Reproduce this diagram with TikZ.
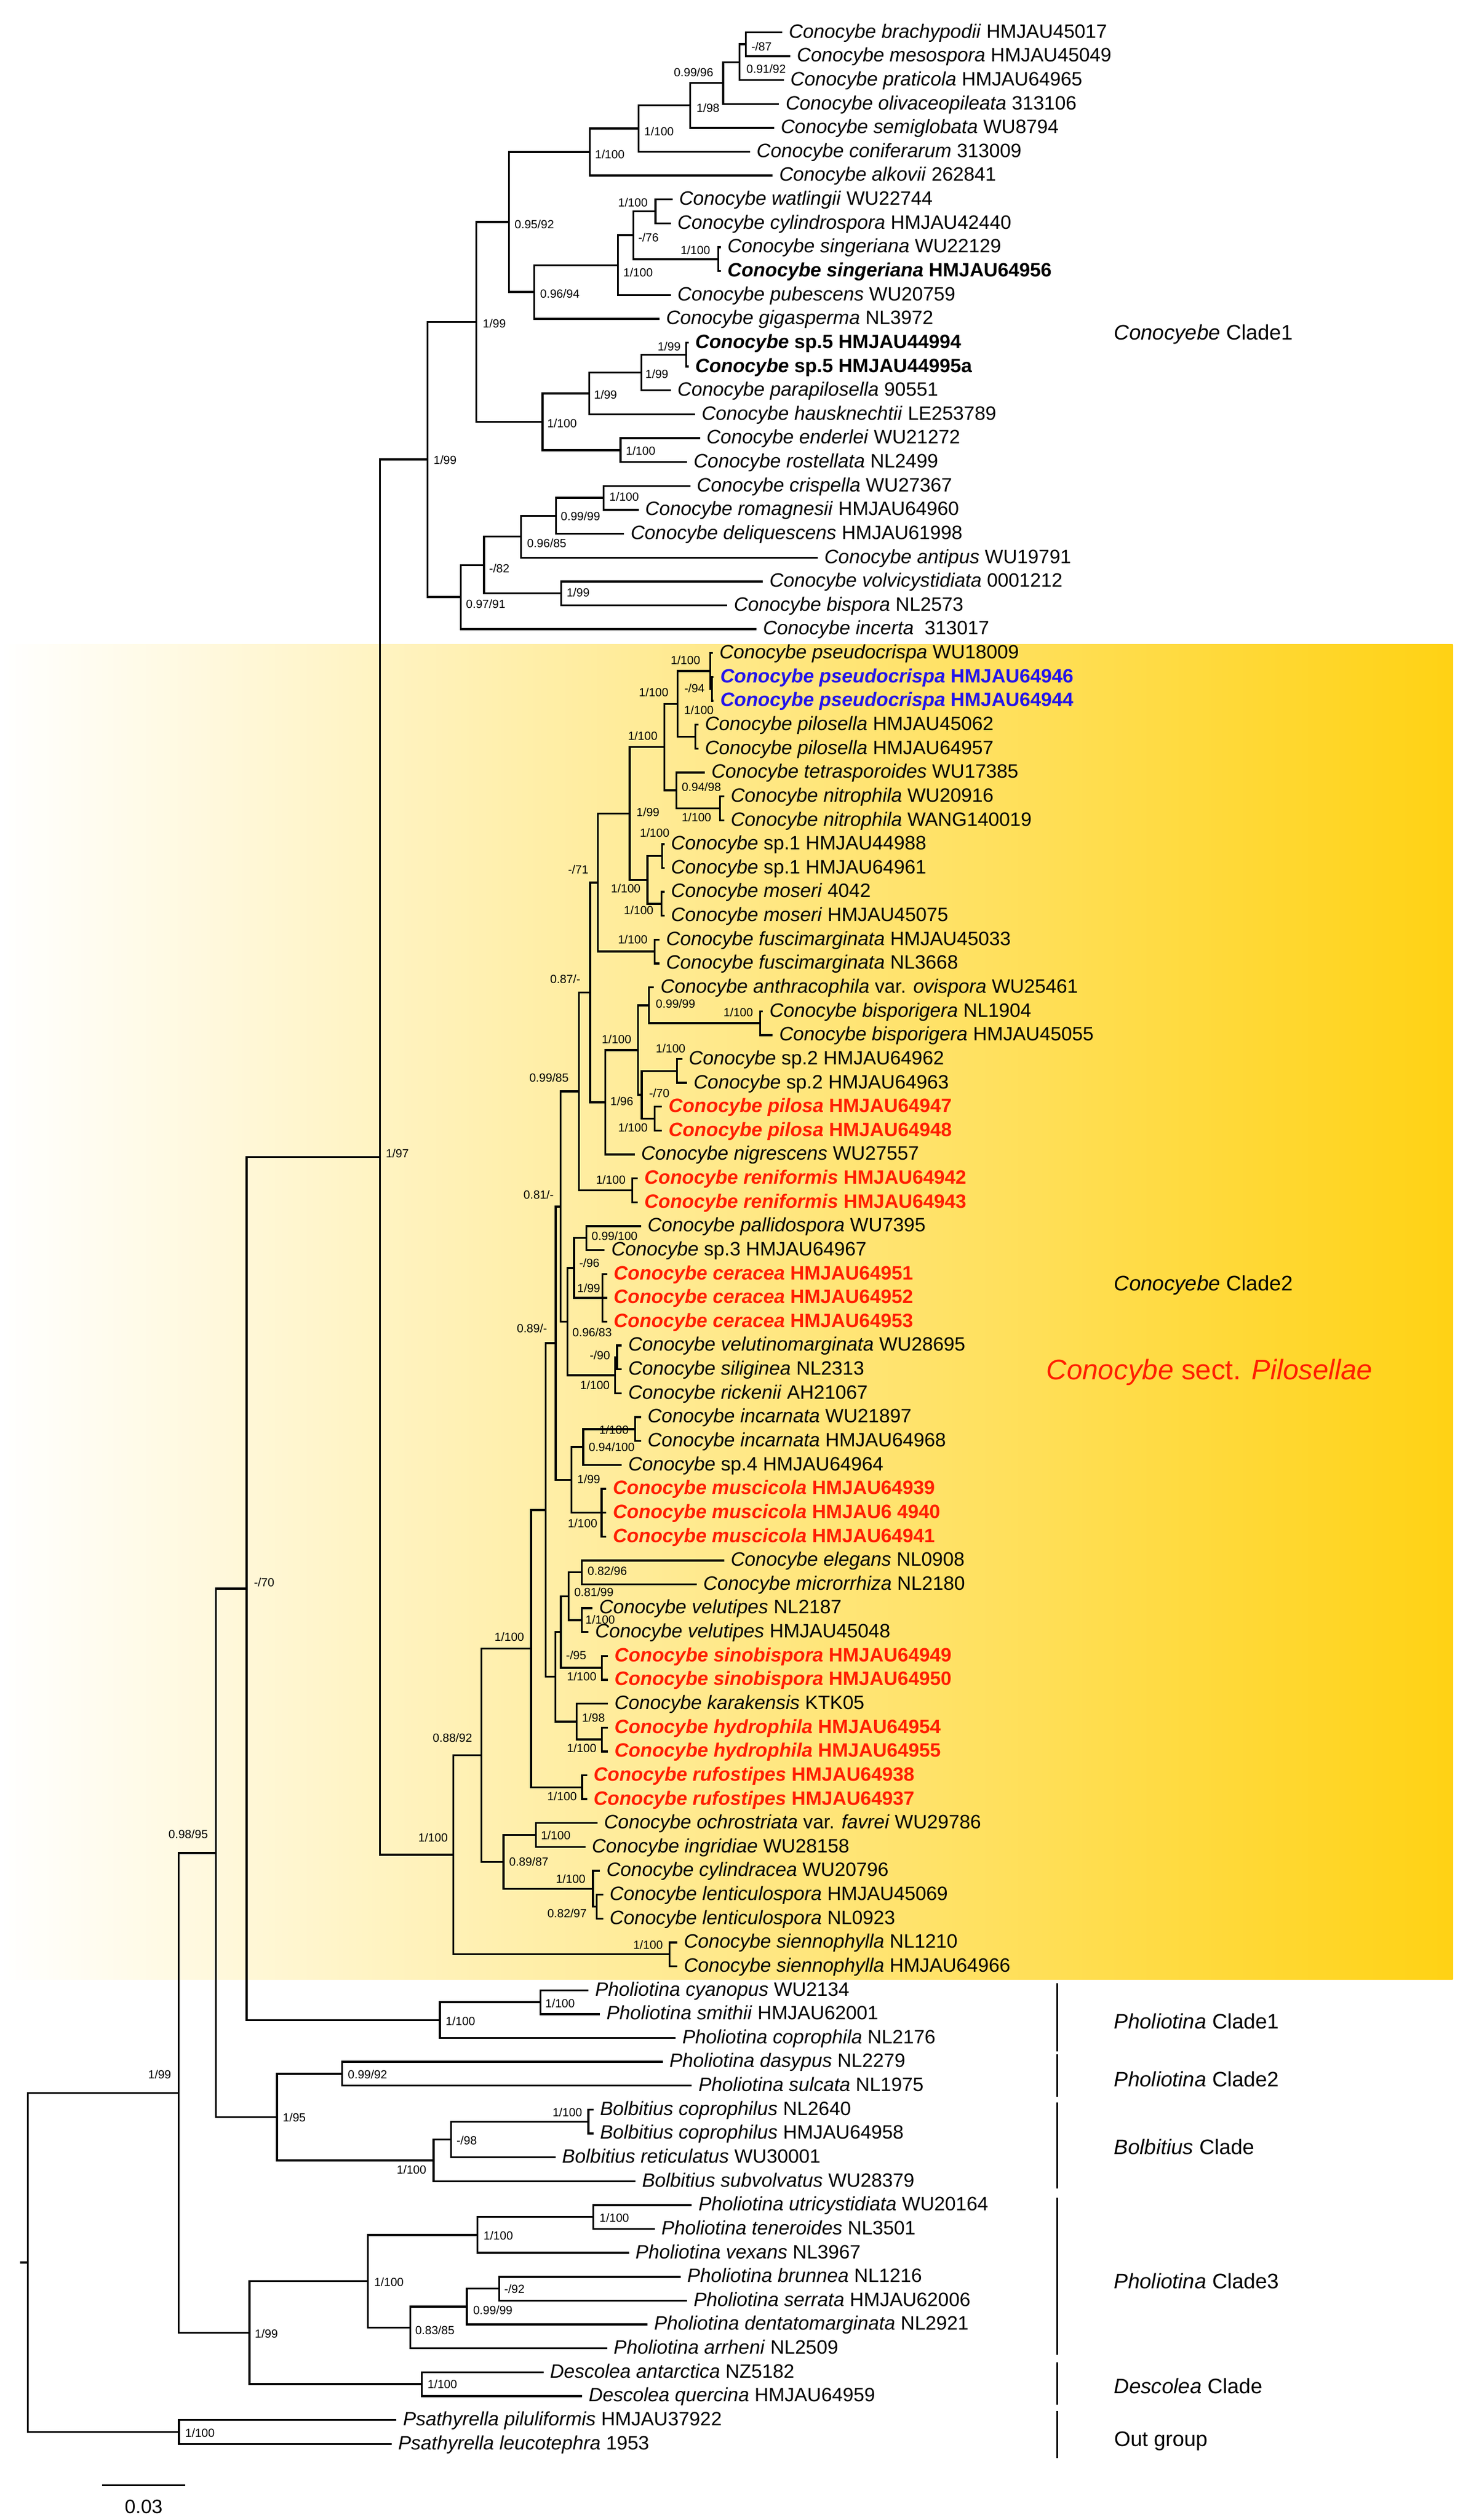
\documentclass[tikz,border=0pt]{standalone}
\usepackage{fontspec}
\setmainfont{Liberation Sans}
\definecolor{newred}{RGB}{255,30,0}
\definecolor{newblue}{RGB}{35,20,235}
\definecolor{shadegold}{RGB}{255,210,20}
\definecolor{shadepale}{RGB}{255,232,140}
\newcommand{\Co}[1]{\textit{Conocybe #1}}
\newcommand{\leaffont}{\fontsize{12}{14}\selectfont}
\tikzset{
  br/.style={line width=1.2pt, line cap=rect},
  leaf/.style={anchor=west, inner xsep=4.5pt, inner ysep=0pt, text height=8.6pt, text depth=1.6pt, font=\leaffont},
  boldsp/.style={leaf, font=\leaffont\bfseries},
  newsp/.style={leaf, text=newred, font=\leaffont\bfseries},
  bluesp/.style={leaf, text=newblue, font=\leaffont\bfseries},
  bs/.style={anchor=west, inner sep=0pt, font=\fontsize{7.3}{8}\selectfont},
  grp/.style={anchor=west, inner sep=0pt, font=\fontsize{13}{15}\selectfont},
}
\begin{document}
\begin{tikzpicture}[x=1pt,y=-14.79pt]
\useasboundingbox (0,-0.3523) rectangle (910.9,105.19);
% shaded clade 2
\shade[left color=white, middle color=shadepale, right color=shadegold] (0,26.63) rectangle (900,82.54);

% leaves, clade 1
\node[leaf] (l1) at (484,1) {\Co{brachypodii} HMJAU45017};
\node[leaf] (l2) at (489,2) {\Co{mesospora} HMJAU45049};
\node[leaf] (l3) at (485,3) {\Co{praticola} HMJAU64965};
\node[leaf] (l4) at (482,4) {\Co{olivaceopileata} 313106};
\node[leaf] (l5) at (479,5) {\Co{semiglobata} WU8794};
\node[leaf] (l6) at (464,6) {\Co{coniferarum} 313009};
\node[leaf] (l7) at (478,7) {\Co{alkovii} 262841};
\node[leaf] (l8) at (416,8) {\Co{watlingii} WU22744};
\node[leaf] (l9) at (415,9) {\Co{cylindrospora} HMJAU42440};
\node[leaf] (l10) at (446,10) {\Co{singeriana} WU22129};
\node[boldsp] (l11) at (446,11) {\Co{singeriana} HMJAU64956};
\node[leaf] (l12) at (415,12) {\Co{pubescens} WU20759};
\node[leaf] (l13) at (408,13) {\Co{gigasperma} NL3972};
\node[boldsp] (l14) at (426,14) {\textit{Conocybe} sp.5 HMJAU44994};
\node[boldsp] (l15) at (426,15) {\textit{Conocybe} sp.5 HMJAU44995a};
\node[leaf] (l16) at (415,16) {\Co{parapilosella} 90551};
\node[leaf] (l17) at (430,17) {\Co{hausknechtii} LE253789};
\node[leaf] (l18) at (433,18) {\Co{enderlei} WU21272};
\node[leaf] (l19) at (425,19) {\Co{rostellata} NL2499};
\node[leaf] (l20) at (427,20) {\Co{crispella} WU27367};
\node[leaf] (l21) at (395,21) {\Co{romagnesii} HMJAU64960};
\node[leaf] (l22) at (386,22) {\Co{deliquescens} HMJAU61998};
\node[leaf] (l23) at (506,23) {\Co{antipus} WU19791};
\node[leaf] (l24) at (472,24) {\Co{volvicystidiata} 0001212};
\node[leaf] (l25) at (450,25) {\Co{bispora} NL2573};
\node[leaf] (l26) at (468,26) {\Co{incerta}~ 313017};

% leaves, clade 2
\node[leaf] (l27) at (441,27) {\Co{pseudocrispa} WU18009};
\node[bluesp] (l28) at (441.5,28) {\Co{pseudocrispa} HMJAU64946};
\node[bluesp] (l29) at (441.5,29) {\Co{pseudocrispa} HMJAU64944};
\node[leaf] (l30) at (432,30) {\Co{pilosella} HMJAU45062};
\node[leaf] (l31) at (432,31) {\Co{pilosella} HMJAU64957};
\node[leaf] (l32) at (436,32) {\Co{tetrasporoides} WU17385};
\node[leaf] (l33) at (448,33) {\Co{nitrophila} WU20916};
\node[leaf] (l34) at (448,34) {\Co{nitrophila} WANG140019};
\node[leaf] (l35) at (411,35) {\textit{Conocybe} sp.1 HMJAU44988};
\node[leaf] (l36) at (411,36) {\textit{Conocybe} sp.1 HMJAU64961};
\node[leaf] (l37) at (411,37) {\Co{moseri} 4042};
\node[leaf] (l38) at (411,38) {\Co{moseri} HMJAU45075};
\node[leaf] (l39) at (408,39) {\Co{fuscimarginata} HMJAU45033};
\node[leaf] (l40) at (408,40) {\Co{fuscimarginata} NL3668};
\node[leaf] (l41) at (404.5,41) {\Co{anthracophila} var. \textit{ovispora} WU25461};
\node[leaf] (l42) at (472,42) {\Co{bisporigera} NL1904};
\node[leaf] (l43) at (478,43) {\Co{bisporigera} HMJAU45055};
\node[leaf] (l44) at (422,44) {\textit{Conocybe} sp.2 HMJAU64962};
\node[leaf] (l45) at (425,45) {\textit{Conocybe} sp.2 HMJAU64963};
\node[newsp] (l46) at (409.5,46) {\Co{pilosa} HMJAU64947};
\node[newsp] (l47) at (409.5,47) {\Co{pilosa} HMJAU64948};
\node[leaf] (l48) at (392.5,48) {\Co{nigrescens} WU27557};
\node[newsp] (l49) at (394.5,49) {\Co{reniformis} HMJAU64942};
\node[newsp] (l50) at (394.5,50) {\Co{reniformis} HMJAU64943};
\node[leaf] (l51) at (396.5,51) {\Co{pallidospora} WU7395};
\node[leaf] (l52) at (374,52) {\textit{Conocybe} sp.3 HMJAU64967};
\node[newsp] (l53) at (375.5,53) {\Co{ceracea} HMJAU64951};
\node[newsp] (l54) at (375.5,54) {\Co{ceracea} HMJAU64952};
\node[newsp] (l55) at (375.5,55) {\Co{ceracea} HMJAU64953};
\node[leaf] (l56) at (384.5,56) {\Co{velutinomarginata} WU28695};
\node[leaf] (l57) at (384.5,57) {\Co{siliginea} NL2313};
\node[leaf] (l58) at (384.5,58) {\Co{rickenii} AH21067};
\node[leaf] (l59) at (396.5,59) {\Co{incarnata} WU21897};
\node[leaf] (l60) at (396.5,60) {\Co{incarnata} HMJAU64968};
\node[leaf] (l61) at (384.5,61) {\textit{Conocybe} sp.4 HMJAU64964};
\node[newsp] (l62) at (375,62) {\Co{muscicola} HMJAU64939};
\node[newsp] (l63) at (375,63) {\Co{muscicola} HMJAU6 4940};
\node[newsp] (l64) at (375,64) {\Co{muscicola} HMJAU64941};
\node[leaf] (l65) at (448,65) {\Co{elegans} NL0908};
\node[leaf] (l66) at (431,66) {\Co{microrrhiza} NL2180};
\node[leaf] (l67) at (366.5,67) {\Co{velutipes} NL2187};
\node[leaf] (l68) at (364,68) {\Co{velutipes} HMJAU45048};
\node[newsp] (l69) at (376,69) {\Co{sinobispora} HMJAU64949};
\node[newsp] (l70) at (376,70) {\Co{sinobispora} HMJAU64950};
\node[leaf] (l71) at (376,71) {\Co{karakensis} KTK05};
\node[newsp] (l72) at (376,72) {\Co{hydrophila} HMJAU64954};
\node[newsp] (l73) at (376,73) {\Co{hydrophila} HMJAU64955};
\node[newsp] (l74) at (363,74) {\Co{rufostipes} HMJAU64938};
\node[newsp] (l75) at (363,75) {\Co{rufostipes} HMJAU64937};
\node[leaf] (l76) at (369.5,76) {\Co{ochrostriata} var. \textit{favrei} WU29786};
\node[leaf] (l77) at (362,77) {\Co{ingridiae} WU28158};
\node[leaf] (l78) at (371,78) {\Co{cylindracea} WU20796};
\node[leaf] (l79) at (373,79) {\Co{lenticulospora} HMJAU45069};
\node[leaf] (l80) at (373,80) {\Co{lenticulospora} NL0923};
\node[leaf] (l81) at (419,81) {\Co{siennophylla} NL1210};
\node[leaf] (l82) at (419,82) {\Co{siennophylla} HMJAU64966};

% leaves, other genera
\node[leaf] (l83) at (364,83) {\textit{Pholiotina cyanopus} WU2134};
\node[leaf] (l84) at (371,84) {\textit{Pholiotina smithii} HMJAU62001};
\node[leaf] (l85) at (418,85) {\textit{Pholiotina coprophila} NL2176};
\node[leaf] (l86) at (410,86) {\textit{Pholiotina dasypus} NL2279};
\node[leaf] (l87) at (428,87) {\textit{Pholiotina sulcata} NL1975};
\node[leaf] (l88) at (367,88) {\textit{Bolbitius coprophilus} NL2640};
\node[leaf] (l89) at (367,89) {\textit{Bolbitius coprophilus} HMJAU64958};
\node[leaf] (l90) at (343.5,90) {\textit{Bolbitius reticulatus} WU30001};
\node[leaf] (l91) at (393,91) {\textit{Bolbitius subvolvatus} WU28379};
\node[leaf] (l92) at (428,92) {\textit{Pholiotina utricystidiata} WU20164};
\node[leaf] (l93) at (405,93) {\textit{Pholiotina teneroides} NL3501};
\node[leaf] (l94) at (389,94) {\textit{Pholiotina vexans} NL3967};
\node[leaf] (l95) at (421,95) {\textit{Pholiotina brunnea} NL1216};
\node[leaf] (l96) at (425,96) {\textit{Pholiotina serrata} HMJAU62006};
\node[leaf] (l97) at (400.5,97) {\textit{Pholiotina dentatomarginata} NL2921};
\node[leaf] (l98) at (375.5,98) {\textit{Pholiotina arrheni} NL2509};
\node[leaf] (l99) at (336,99) {\textit{Descolea antarctica} NZ5182};
\node[leaf] (l100) at (360,100) {\textit{Descolea quercina} HMJAU64959};
\node[leaf] (l101) at (245,101) {\textit{Psathyrella piluliformis} HMJAU37922};
\node[leaf] (l102) at (242,102) {\textit{Psathyrella leucotephra} 1953};

% internal nodes
\coordinate (a1) at (462,1.5);
\coordinate (a2) at (458,2.25);
\coordinate (a3) at (448,3.125);
\coordinate (a4) at (427.5,4.0625);
\coordinate (a5) at (395.5,5.03);
\coordinate (a6) at (365.3,6.016);
\coordinate (b1) at (406,8.5);
\coordinate (b2) at (445,10.5);
\coordinate (b3) at (392.3,9.5);
\coordinate (b4) at (382.7,10.75);
\coordinate (b5) at (331,11.875);
\coordinate (c1a) at (315.2,8.945);
\coordinate (d1) at (425,14.5);
\coordinate (d2) at (397.3,15.25);
\coordinate (d3) at (365.1,16.125);
\coordinate (d4) at (384.4,18.5);
\coordinate (d5) at (336,17.3125);
\coordinate (c1top) at (295,13.13);
\coordinate (e1) at (374,20.5);
\coordinate (e2) at (344.5,21.25);
\coordinate (e3) at (322.7,22.125);
\coordinate (e4) at (347.7,24.5);
\coordinate (e5) at (299.8,23.3125);
\coordinate (e6) at (285.4,24.656);
\coordinate (c1) at (264.9,18.89);
\coordinate (f1) at (441,28.5);
\coordinate (f2) at (440,27.75);
\coordinate (f3) at (430.8,30.5);
\coordinate (f4) at (419.7,29.125);
\coordinate (f5) at (446,33.5);
\coordinate (f6) at (419,32.75);
\coordinate (f7) at (411.6,30.9375);
\coordinate (f8) at (410.1,35.5);
\coordinate (f9) at (409.8,37.5);
\coordinate (f10) at (401.1,36.5);
\coordinate (f11) at (390,33.72);
\coordinate (f12) at (405.5,39.5);
\coordinate (f13) at (370.3,36.61);
\coordinate (g1) at (470.8,42.5);
\coordinate (g2) at (401.9,41.75);
\coordinate (g3) at (419.3,44.5);
\coordinate (g4) at (405.5,46.5);
\coordinate (g5) at (397.5,45.5);
\coordinate (g6) at (395.3,43.625);
\coordinate (g7) at (375,45.81);
\coordinate (g8) at (365.6,41.21);
\coordinate (h1) at (391.7,49.5);
\coordinate (h2) at (358.6,45.36);
\coordinate (i1) at (363.3,51.5);
\coordinate (i2) at (373.2,54);
\coordinate (i3) at (355.6,52.75);
\coordinate (i4) at (382.3,56.5);
\coordinate (i5) at (381,57.25);
\coordinate (i6) at (351.5,55);
\coordinate (h3) at (347.2,50.18);
\coordinate (j1) at (393.5,59.5);
\coordinate (j2) at (361.3,60.25);
\coordinate (j3) at (372.6,63);
\coordinate (j4) at (353.9,61.625);
\coordinate (h4) at (344.3,55.9);
\coordinate (k1) at (360.3,65.5);
\coordinate (k2) at (360.3,67.5);
\coordinate (k3) at (352.3,66.5);
\coordinate (k4) at (372.8,69.5);
\coordinate (k5) at (347.4,68);
\coordinate (k6) at (372.8,72.5);
\coordinate (k7) at (357.1,71.75);
\coordinate (k8) at (344,69.875);
\coordinate (h5) at (338,62.89);
\coordinate (l1n) at (360.6,74.5);
\coordinate (h6) at (329,68.69);
\coordinate (m1) at (332,76.5);
\coordinate (m2) at (369.6,79.5);
\coordinate (m3) at (367.3,78.75);
\coordinate (m4) at (311.9,77.625);
\coordinate (h7) at (298.2,73.16);
\coordinate (n1) at (414.7,81.5);
\coordinate (c2) at (280.8,77.33);
\coordinate (cono) at (235.3,48.11);
\coordinate (p1) at (334.9,83.5);
\coordinate (p2) at (272.5,84.25);
\coordinate (r70) at (152.8,66.18);
\coordinate (q1) at (212,86.5);
\coordinate (q2) at (364.5,88.5);
\coordinate (q3) at (279.3,89.25);
\coordinate (q4) at (268.5,90.125);
\coordinate (q5) at (171.6,88.31);
\coordinate (r95) at (133.8,77.25);
\coordinate (t1) at (367.5,92.5);
\coordinate (t2) at (295.8,93.25);
\coordinate (t3) at (309.3,95.5);
\coordinate (t4) at (289.2,96.25);
\coordinate (t5) at (254.1,97.125);
\coordinate (t6) at (227.9,95.19);
\coordinate (u1) at (261.3,99.5);
\coordinate (t7) at (154.5,97.34);
\coordinate (r99) at (110.6,87.3);
\coordinate (v1) at (110.8,101.5);
\coordinate (root) at (17.3,94.4);
\coordinate (stub) at (13,94.4);

% branches
\draw[br] (a1) |- (l1.west) (a1) |- (l2.west);
\draw[br] (a2) |- (a1) (a2) |- (l3.west);
\draw[br] (a3) |- (a2) (a3) |- (l4.west);
\draw[br] (a4) |- (a3) (a4) |- (l5.west);
\draw[br] (a5) |- (a4) (a5) |- (l6.west);
\draw[br] (a6) |- (a5) (a6) |- (l7.west);
\draw[br] (b1) |- (l8.west) (b1) |- (l9.west);
\draw[br] (b2) |- (l10.west) (b2) |- (l11.west);
\draw[br] (b3) |- (b1) (b3) |- (b2);
\draw[br] (b4) |- (b3) (b4) |- (l12.west);
\draw[br] (b5) |- (b4) (b5) |- (l13.west);
\draw[br] (c1a) |- (a6) (c1a) |- (b5);
\draw[br] (d1) |- (l14.west) (d1) |- (l15.west);
\draw[br] (d2) |- (d1) (d2) |- (l16.west);
\draw[br] (d3) |- (d2) (d3) |- (l17.west);
\draw[br] (d4) |- (l18.west) (d4) |- (l19.west);
\draw[br] (d5) |- (d3) (d5) |- (d4);
\draw[br] (c1top) |- (c1a) (c1top) |- (d5);
\draw[br] (e1) |- (l20.west) (e1) |- (l21.west);
\draw[br] (e2) |- (e1) (e2) |- (l22.west);
\draw[br] (e3) |- (e2) (e3) |- (l23.west);
\draw[br] (e4) |- (l24.west) (e4) |- (l25.west);
\draw[br] (e5) |- (e3) (e5) |- (e4);
\draw[br] (e6) |- (e5) (e6) |- (l26.west);
\draw[br] (c1) |- (c1top) (c1) |- (e6);
\draw[br] (f1) |- (l28.west) (f1) |- (l29.west);
\draw[br] (f2) |- (l27.west) (f2) |- (f1);
\draw[br] (f3) |- (l30.west) (f3) |- (l31.west);
\draw[br] (f4) |- (f2) (f4) |- (f3);
\draw[br] (f5) |- (l33.west) (f5) |- (l34.west);
\draw[br] (f6) |- (l32.west) (f6) |- (f5);
\draw[br] (f7) |- (f4) (f7) |- (f6);
\draw[br] (f8) |- (l35.west) (f8) |- (l36.west);
\draw[br] (f9) |- (l37.west) (f9) |- (l38.west);
\draw[br] (f10) |- (f8) (f10) |- (f9);
\draw[br] (f11) |- (f7) (f11) |- (f10);
\draw[br] (f12) |- (l39.west) (f12) |- (l40.west);
\draw[br] (f13) |- (f11) (f13) |- (f12);
\draw[br] (g1) |- (l42.west) (g1) |- (l43.west);
\draw[br] (g2) |- (l41.west) (g2) |- (g1);
\draw[br] (g3) |- (l44.west) (g3) |- (l45.west);
\draw[br] (g4) |- (l46.west) (g4) |- (l47.west);
\draw[br] (g5) |- (g3) (g5) |- (g4);
\draw[br] (g6) |- (g2) (g6) |- (g5);
\draw[br] (g7) |- (g6) (g7) |- (l48.west);
\draw[br] (g8) |- (f13) (g8) |- (g7);
\draw[br] (h1) |- (l49.west) (h1) |- (l50.west);
\draw[br] (h2) |- (g8) (h2) |- (h1);
\draw[br] (i1) |- (l51.west) (i1) |- (l52.west);
\draw[br] (i2) |- (l53.west) (i2) |- (l54.west) (i2) |- (l55.west);
\draw[br] (i3) |- (i1) (i3) |- (i2);
\draw[br] (i4) |- (l56.west) (i4) |- (l57.west);
\draw[br] (i5) |- (i4) (i5) |- (l58.west);
\draw[br] (i6) |- (i3) (i6) |- (i5);
\draw[br] (h3) |- (h2) (h3) |- (i6);
\draw[br] (j1) |- (l59.west) (j1) |- (l60.west);
\draw[br] (j2) |- (j1) (j2) |- (l61.west);
\draw[br] (j3) |- (l62.west) (j3) |- (l63.west) (j3) |- (l64.west);
\draw[br] (j4) |- (j2) (j4) |- (j3);
\draw[br] (h4) |- (h3) (h4) |- (j4);
\draw[br] (k1) |- (l65.west) (k1) |- (l66.west);
\draw[br] (k2) |- (l67.west) (k2) |- (l68.west);
\draw[br] (k3) |- (k1) (k3) |- (k2);
\draw[br] (k4) |- (l69.west) (k4) |- (l70.west);
\draw[br] (k5) |- (k3) (k5) |- (k4);
\draw[br] (k6) |- (l72.west) (k6) |- (l73.west);
\draw[br] (k7) |- (l71.west) (k7) |- (k6);
\draw[br] (k8) |- (k5) (k8) |- (k7);
\draw[br] (h5) |- (h4) (h5) |- (k8);
\draw[br] (l1n) |- (l74.west) (l1n) |- (l75.west);
\draw[br] (h6) |- (h5) (h6) |- (l1n);
\draw[br] (m1) |- (l76.west) (m1) |- (l77.west);
\draw[br] (m2) |- (l79.west) (m2) |- (l80.west);
\draw[br] (m3) |- (l78.west) (m3) |- (m2);
\draw[br] (m4) |- (m1) (m4) |- (m3);
\draw[br] (h7) |- (h6) (h7) |- (m4);
\draw[br] (n1) |- (l81.west) (n1) |- (l82.west);
\draw[br] (c2) |- (h7) (c2) |- (n1);
\draw[br] (cono) |- (c1) (cono) |- (c2);
\draw[br] (p1) |- (l83.west) (p1) |- (l84.west);
\draw[br] (p2) |- (p1) (p2) |- (l85.west);
\draw[br] (r70) |- (cono) (r70) |- (p2);
\draw[br] (q1) |- (l86.west) (q1) |- (l87.west);
\draw[br] (q2) |- (l88.west) (q2) |- (l89.west);
\draw[br] (q3) |- (q2) (q3) |- (l90.west);
\draw[br] (q4) |- (q3) (q4) |- (l91.west);
\draw[br] (q5) |- (q1) (q5) |- (q4);
\draw[br] (r95) |- (r70) (r95) |- (q5);
\draw[br] (t1) |- (l92.west) (t1) |- (l93.west);
\draw[br] (t2) |- (t1) (t2) |- (l94.west);
\draw[br] (t3) |- (l95.west) (t3) |- (l96.west);
\draw[br] (t4) |- (t3) (t4) |- (l97.west);
\draw[br] (t5) |- (t4) (t5) |- (l98.west);
\draw[br] (t6) |- (t2) (t6) |- (t5);
\draw[br] (u1) |- (l99.west) (u1) |- (l100.west);
\draw[br] (t7) |- (t6) (t7) |- (u1);
\draw[br] (r99) |- (r95) (r99) |- (t7);
\draw[br] (v1) |- (l101.west) (v1) |- (l102.west);
\draw[br] (root) |- (r99) (root) |- (v1);
\draw[br] (stub) -- (root);

% support values
\node[bs] (sa1) at (465.2,1.602) {-/87};
\node[bs] (sa2) at (462.2,2.535) {0.91/92};
\node[bs] (sa3) at (417.3,2.677) {0.99/96};
\node[bs] (sa4) at (431.3,4.164) {1/98};
\node[bs] (sa5) at (398.9,5.145) {1/100};
\node[bs] (sa6) at (368.4,6.112) {1/100};
\node[bs] (sc1a) at (318.6,9.032) {0.95/92};
\node[bs] (sb1) at (382.7,8.12) {1/100};
\node[bs] (sb3) at (395.2,9.587) {-/76};
\node[bs] (sb2) at (421.4,10.128) {1/100};
\node[bs] (sb4) at (385.9,11.054) {1/100};
\node[bs] (sb5) at (334.4,11.947) {0.96/94};
\node[bs] (sc1top) at (298.9,13.19) {1/99};
\node[bs] (sd1) at (407.2,14.151) {1/99};
\node[bs] (sd2) at (399.6,15.307) {1/99};
\node[bs] (sd3) at (367.8,16.166) {1/99};
\node[bs] (sd5) at (338.8,17.369) {1/100};
\node[bs] (sd4) at (387.5,18.525) {1/100};
\node[bs] (sc1) at (268.4,18.924) {1/99};
\node[bs] (se1) at (377.3,20.459) {1/100};
\node[bs] (se2) at (347.2,21.277) {0.99/99};
\node[bs] (se3) at (326.3,22.386) {0.96/85};
\node[bs] (se5) at (302.8,23.454) {-/82};
\node[bs] (se4) at (350.8,24.475) {1/99};
\node[bs] (se6) at (288.5,24.935) {0.97/91};
\node[bs] (sf2) at (415.3,27.3) {1/100};
\node[bs] (sf1) at (423.7,28.47) {-/94};
\node[bs] (sf4) at (395.6,28.64) {1/100};
\node[bs] (sf3) at (423.6,29.39) {1/100};
\node[bs] (sf7) at (388.8,30.47) {1/100};
\node[bs] (sf6) at (422.1,32.6) {0.94/98};
\node[bs] (sf11) at (394.1,33.66) {1/99};
\node[bs] (sf5) at (422.1,33.88) {1/100};
\node[bs] (sf8) at (396.2,34.52) {1/100};
\node[bs] (sf13) at (351.7,36.07) {-/71};
\node[bs] (sf10) at (378.3,36.86) {1/100};
\node[bs] (sf9) at (386.3,37.78) {1/100};
\node[bs] (sf12) at (382.6,38.99) {1/100};
\node[bs] (sg8) at (340.6,40.66) {0.87/-};
\node[bs] (sg2) at (406.1,41.69) {0.99/99};
\node[bs] (sg1) at (448,42.05) {1/100};
\node[bs] (sg6) at (372.6,43.18) {1/100};
\node[bs] (sg3) at (406.1,43.55) {1/100};
\node[bs] (sh2) at (327.7,44.78) {0.99/85};
\node[bs] (sg5) at (401.9,45.44) {-/70};
\node[bs] (sg7) at (377.9,45.78) {1/96};
\node[bs] (sg4) at (382.7,46.87) {1/100};
\node[bs] (sh1) at (369,49.06) {1/100};
\node[bs] (sh3) at (324.1,49.68) {0.81/-};
\node[bs] (si1) at (366.3,51.41) {0.99/100};
\node[bs] (si3) at (358.6,52.53) {-/96};
\node[bs] (si2) at (357.4,53.59) {1/99};
\node[bs] (sh4) at (320,55.29) {0.89/-};
\node[bs] (si6) at (354.4,55.44) {0.96/83};
\node[bs] (si4) at (365.1,56.42) {-/90};
\node[bs] (si5) at (359.2,57.66) {1/100};
\node[bs] (sj1) at (371,59.53) {1/100};
\node[bs] (sj2) at (364.5,60.26) {0.94/100};
\node[bs] (sj4) at (357.4,61.6) {1/99};
\node[bs] (sj3) at (351.5,63.45) {1/100};
\node[bs] (sk1) at (363.8,65.45) {0.82/96};
\node[bs] (sk3) at (355.5,66.32) {0.81/99};
\node[bs] (sk2) at (362.5,67.48) {1/100};
\node[bs] (sh6) at (306.2,68.21) {1/100};
\node[bs] (sk5) at (350.4,68.96) {-/95};
\node[bs] (sk4) at (351,69.87) {1/100};
\node[bs] (sk7) at (360.3,71.58) {1/98};
\node[bs] (sh7) at (267.9,72.43) {0.88/92};
\node[bs] (sk6) at (351,72.87) {1/100};
\node[bs] (sl1) at (338.8,74.87) {1/100};
\node[bs] (sm1) at (334.9,76.51) {1/100};
\node[bs] (sc2) at (258.9,76.62) {1/100};
\node[bs] (sm4) at (315.2,77.63) {0.89/87};
\node[bs] (sm3) at (344.2,78.35) {1/100};
\node[bs] (sm2) at (338.9,79.78) {0.82/97};
\node[bs] (sn1) at (392.1,81.09) {1/100};
\node[bs] (scono) at (238.8,47.96) {1/97};
\node[bs] (sp1) at (337.6,83.55) {1/100};
\node[bs] (sp2) at (275.9,84.29) {1/100};
\node[bs] (sr70) at (157.1,65.91) {-/70};
\node[bs] (sq1) at (215.3,86.54) {0.99/92};
\node[bs] (sq2) at (342.1,88.11) {1/100};
\node[bs] (sq3) at (282.6,89.28) {-/98};
\node[bs] (sq4) at (245.6,90.51) {1/100};
\node[bs] (sq5) at (175,88.34) {1/95};
\node[bs] (sr95) at (104.2,76.47) {0.98/95};
\node[bs] (sr99) at (91.6,86.52) {1/99};
\node[bs] (st1) at (371.2,92.53) {1/100};
\node[bs] (st2) at (299.3,93.27) {1/100};
\node[bs] (st3) at (312.2,95.52) {-/92};
\node[bs] (st4) at (292.9,96.4) {0.99/99};
\node[bs] (st5) at (257,97.23) {0.83/85};
\node[bs] (st6) at (231.6,95.22) {1/100};
\node[bs] (st7) at (157.7,97.38) {1/99};
\node[bs] (su1) at (264.7,99.51) {1/100};
\node[bs] (sv1) at (114.5,101.53) {1/100};

% clade names and brackets
\node[grp] (cl1) at (690,13.64) {\textit{Conocyebe} Clade1};
\node[grp] (cl2) at (690,53.47) {\textit{Conocyebe} Clade2};
\node[anchor=west, inner sep=0pt, text=newred, font=\fontsize{17.5}{20}\selectfont] (sect) at (648,57.12) {\textit{Conocybe} sect. \textit{Pilosellae}};
\draw[br] (655,82.75) -- (655,85.52);
\draw[br] (655,85.72) -- (655,87.41);
\draw[br] (655,87.75) -- (655,91.26);
\draw[br] (655,91.74) -- (655,98.23);
\draw[br] (655,98.63) -- (655,100.32);
\draw[br] (655,100.66) -- (655,102.55);
\node[grp] (gph1) at (690,84.3) {\textit{Pholiotina} Clade1};
\node[grp] (gph2) at (690,86.73) {\textit{Pholiotina} Clade2};
\node[grp] (gbol) at (690,89.57) {\textit{Bolbitius} Clade};
\node[grp] (gph3) at (690,95.18) {\textit{Pholiotina} Clade3};
\node[grp] (gdes) at (690,99.58) {\textit{Descolea} Clade};
\node[grp] (gout) at (690,101.88) {Out group};

% scale bar
\coordinate (sb0) at (64,103.73);
\coordinate (sb1) at (114.2,103.73);
\draw[br] (sb0) -- (sb1);
\node[font=\fontsize{12}{14}\selectfont, inner sep=0pt] (sblab) at (89,104.63) {0.03};
\end{tikzpicture}
\end{document}
